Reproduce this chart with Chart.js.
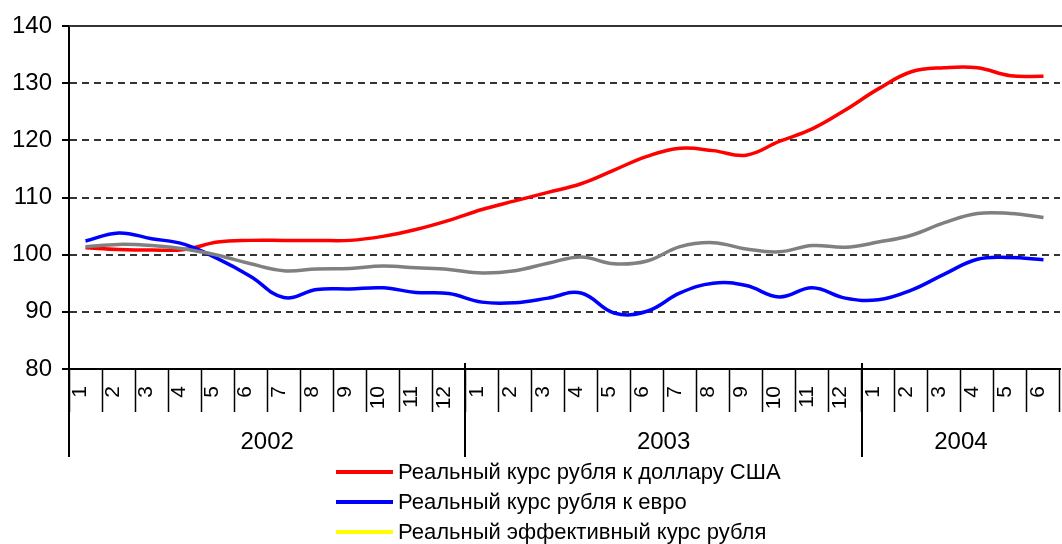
<!DOCTYPE html>
<html lang="ru">
<head>
<meta charset="utf-8">
<title>Реальный курс рубля</title>
<script src="https://cdn.jsdelivr.net/npm/chart.js@4.4.1/dist/chart.umd.min.js"></script>
<style>
  html, body { margin: 0; padding: 0; background: #fff; }
  #wrap { position: relative; width: 1062px; height: 544px; overflow: hidden; }
  #legend { position: absolute; left: 336px; top: 457px; font-family: "Liberation Sans", Arial, sans-serif; font-size: 22px; color: #000; }
  .legend-item { display: flex; align-items: center; height: 30px; white-space: nowrap; }
  .legend-line { width: 57px; height: 4px; margin-right: 5px; }
</style>
</head>
<body>
<div id="wrap">
  <canvas id="chart" width="1062" height="544"></canvas>
  <div id="legend"></div>
</div>
<script>
'use strict';

// ── Data ────────────────────────────────────────────────────
const monthLabels = ['1','2','3','4','5','6','7','8','9','10','11','12',
                     '1','2','3','4','5','6','7','8','9','10','11','12',
                     '1','2','3','4','5','6'];
const yearNames  = ['2002', '2003', '2004'];
const yearMonths = [12, 12, 6];

const seriesNames = [
  'Реальный курс рубля к доллару США',
  'Реальный курс рубля к евро',
  'Реальный эффективный курс рубля'
];

const usdRate = [101.2, 100.9, 100.8, 100.9, 102.2, 102.5, 102.5, 102.5, 102.5, 103.2, 104.4, 106.0,
                 107.9, 109.4, 110.9, 112.4, 114.8, 117.2, 118.6, 118.2, 117.4, 119.8, 122.0, 125.3,
                 129.0, 132.0, 132.7, 132.7, 131.3, 131.2];
const eurRate = [102.4, 103.8, 102.8, 101.8, 99.3, 96.2, 92.5, 93.9, 94.0, 94.2, 93.4, 93.2,
                 91.7, 91.6, 92.4, 93.3, 89.8, 90.1, 93.3, 95.0, 94.6, 92.6, 94.2, 92.4,
                 92.1, 93.8, 96.6, 99.2, 99.5, 99.1];
const effRate = [101.4, 101.8, 101.6, 101.0, 99.9, 98.4, 97.2, 97.5, 97.6, 98.0, 97.7, 97.4,
                 96.8, 97.2, 98.5, 99.6, 98.4, 98.9, 101.4, 102.1, 101.0, 100.5, 101.6, 101.3,
                 102.2, 103.4, 105.6, 107.2, 107.2, 106.5];

const yMin = 80, yMax = 140, yStep = 10;

const lineColors   = ['#ff0000', '#0000ff', '#808080'];
const legendColors = ['#ff0000', '#0000ff', '#ffff00'];

Chart.defaults.font.family = '"Liberation Sans", Arial, sans-serif';
Chart.defaults.color = '#000';

// ── Year row under the month ticks + top frame line ─────────
const yearAxisPlugin = {
  id: 'yearAxis',
  afterDraw(chart) {
    const { ctx, chartArea, scales: { x } } = chart;
    const half = (x.getPixelForValue(1) - x.getPixelForValue(0)) / 2;
    ctx.save();
    ctx.strokeStyle = '#000';
    ctx.lineWidth = 2;
    ctx.fillStyle = '#000';
    ctx.font = '24px "Liberation Sans", Arial, sans-serif';
    ctx.textAlign = 'center';
    ctx.textBaseline = 'middle';

    let start = 0;
    yearNames.forEach((name, i) => {
      const left  = x.getPixelForValue(start) - half;
      const right = x.getPixelForValue(start + yearMonths[i] - 1) + half;
      ctx.beginPath();
      ctx.moveTo(Math.round(left), chartArea.bottom - 6);
      ctx.lineTo(Math.round(left), 457);
      ctx.stroke();
      ctx.fillText(name, (left + right) / 2, 442);
      start += yearMonths[i];
    });

    // top frame
    ctx.strokeStyle = '#333';
    ctx.beginPath();
    ctx.moveTo(chartArea.left, chartArea.top);
    ctx.lineTo(chart.width, chartArea.top);
    ctx.stroke();
    ctx.restore();
  }
};

const datasets = [usdRate, eurRate, effRate].map((data, i) => ({
  label: seriesNames[i],
  data,
  borderColor: lineColors[i],
  backgroundColor: lineColors[i],
  borderWidth: 3.5,
  pointRadius: 0,
  tension: 0.4,
  order: 3 - i
}));

new Chart(document.getElementById('chart').getContext('2d'), {
  type: 'line',
  data: { labels: monthLabels, datasets },
  options: {
    responsive: false,
    animation: false,
    layout: { padding: { top: 26, right: 2, left: 0, bottom: 0 } },
    plugins: { legend: { display: false }, tooltip: { enabled: false } },
    scales: {
      x: {
        offset: true,
        afterFit: s => { s.height = 175; },
        grid: { offset: true, drawOnChartArea: false, tickLength: 43, tickWidth: 1.5, tickColor: '#000' },
        border: { color: '#000', width: 2 },
        ticks: {
          autoSkip: false, minRotation: 90, maxRotation: 90,
          padding: -26, labelOffset: -5,
          font: { size: 21 }, color: '#000'
        }
      },
      y: {
        min: yMin, max: yMax,
        afterFit: s => { s.width = 69; },
        grid: {
          color: c => (c.tick && (c.tick.value === yMin || c.tick.value === yMax)) ? 'rgba(0,0,0,0)' : '#333',
          lineWidth: 2, tickLength: 7, tickColor: '#000', tickWidth: 2, tickBorderDash: []
        },
        border: { color: '#000', width: 2, dash: [7, 5] },
        ticks: { stepSize: yStep, padding: 10, font: { size: 24 }, color: '#000' }
      }
    }
  },
  plugins: [yearAxisPlugin]
});

// ── Legend (vertical, as in the original) ───────────────────
document.getElementById('legend').innerHTML = seriesNames.map((name, i) =>
  `<div class="legend-item"><span class="legend-line" style="background:${legendColors[i]}"></span>${name}</div>`
).join('');
</script>
</body>
</html>
